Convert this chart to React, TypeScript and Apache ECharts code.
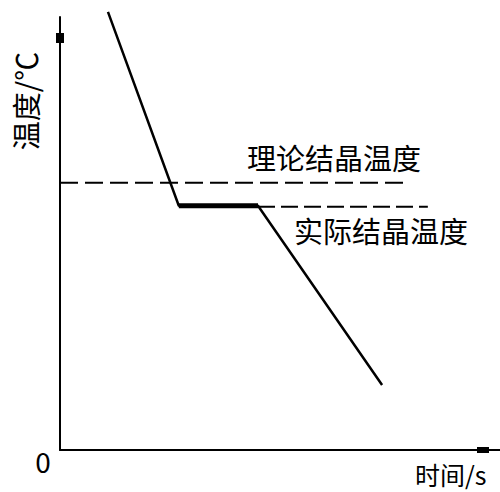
import React, { useEffect, useRef } from "react";
import * as echarts from "echarts";

// Cooling curve (time vs temperature), arbitrary units
const curveTime = [10.9, 27, 45, 73.2];
const curveTemp = [101.2, 56.4, 56.4, 15];
const plateauTime = [27, 45];
const plateauTemp = [56.4, 56.4];
const theoryTime = [0, 78.9];
const theoryTemp = [61.7, 61.7];
const actualTime = [45, 83.6];
const actualTemp = [56.2, 56.2];

const theoryLabel = "理论结晶温度";
const actualLabel = "实际结晶温度";
const yTitle = "温度/℃";
const xTitle = "时间/s";
const originLabel = "0";

const zip = (xs: number[], ys: number[]) => xs.map((x, i) => [x, ys[i]]);

const FONT = '"Noto Sans CJK SC", "Noto Sans", sans-serif';

export default function App() {
  const ref = useRef<HTMLDivElement>(null);
  useEffect(() => {
    document.body.style.margin = "0";
    if (!ref.current) return;
    const chart = echarts.init(ref.current, undefined, { renderer: "svg" });
    const axisCommon = {
      type: "value" as const,
      min: 0,
      max: 100,
      axisTick: { show: false },
      axisLabel: { show: false },
      splitLine: { show: false },
    };
    chart.setOption({
      animation: false,
      backgroundColor: "#fff",
      grid: { left: 60, right: 0, top: 17, bottom: 42, containLabel: false },
      xAxis: {
        ...axisCommon,
        axisLine: {
          show: true,
          symbol: ["none", "rect"],
          symbolSize: [6, 12],
          symbolOffset: [0, -17],
          lineStyle: { color: "#000", width: 2 },
        },
      },
      yAxis: {
        ...axisCommon,
        axisLine: {
          show: true,
          symbol: ["none", "rect"],
          symbolSize: [8, 10],
          symbolOffset: [0, -21],
          lineStyle: { color: "#000", width: 2 },
        },
      },
      series: [
        {
          type: "line",
          data: zip(theoryTime, theoryTemp),
          symbol: "none",
          clip: false,
          lineStyle: { color: "#000", width: 2, type: [18, 7] },
        },
        {
          type: "line",
          data: zip(actualTime, actualTemp),
          symbol: "none",
          clip: false,
          lineStyle: { color: "#000", width: 2, type: [17, 6] },
        },
        {
          type: "line",
          data: zip(curveTime, curveTemp),
          symbol: "none",
          clip: false,
          lineStyle: { color: "#000", width: 2.5 },
        },
        {
          type: "line",
          data: zip(plateauTime, plateauTemp),
          symbol: "none",
          clip: false,
          lineStyle: { color: "#000", width: 5 },
        },
      ],
      graphic: [
        {
          type: "text",
          x: 247,
          y: 157,
          style: { text: theoryLabel, font: `29px ${FONT}`, fill: "#000", verticalAlign: "middle" },
        },
        {
          type: "text",
          x: 294,
          y: 230,
          style: { text: actualLabel, font: `29px ${FONT}`, fill: "#000", verticalAlign: "middle" },
        },
        {
          type: "text",
          x: 25,
          y: 101,
          rotation: Math.PI / 2,
          style: { text: yTitle, font: `29px ${FONT}`, fill: "#000", align: "center", verticalAlign: "middle" },
        },
        {
          type: "text",
          x: 415,
          y: 474,
          style: { text: xTitle, font: `25px ${FONT}`, fill: "#000", verticalAlign: "middle" },
        },
        {
          type: "text",
          x: 43,
          y: 461,
          style: { text: originLabel, font: `28px ${FONT}`, fill: "#000", align: "center", verticalAlign: "middle" },
        },
      ],
    });
    return () => chart.dispose();
  }, []);
  return <div ref={ref} style={{ width: 500, height: 492 }} />;
}
